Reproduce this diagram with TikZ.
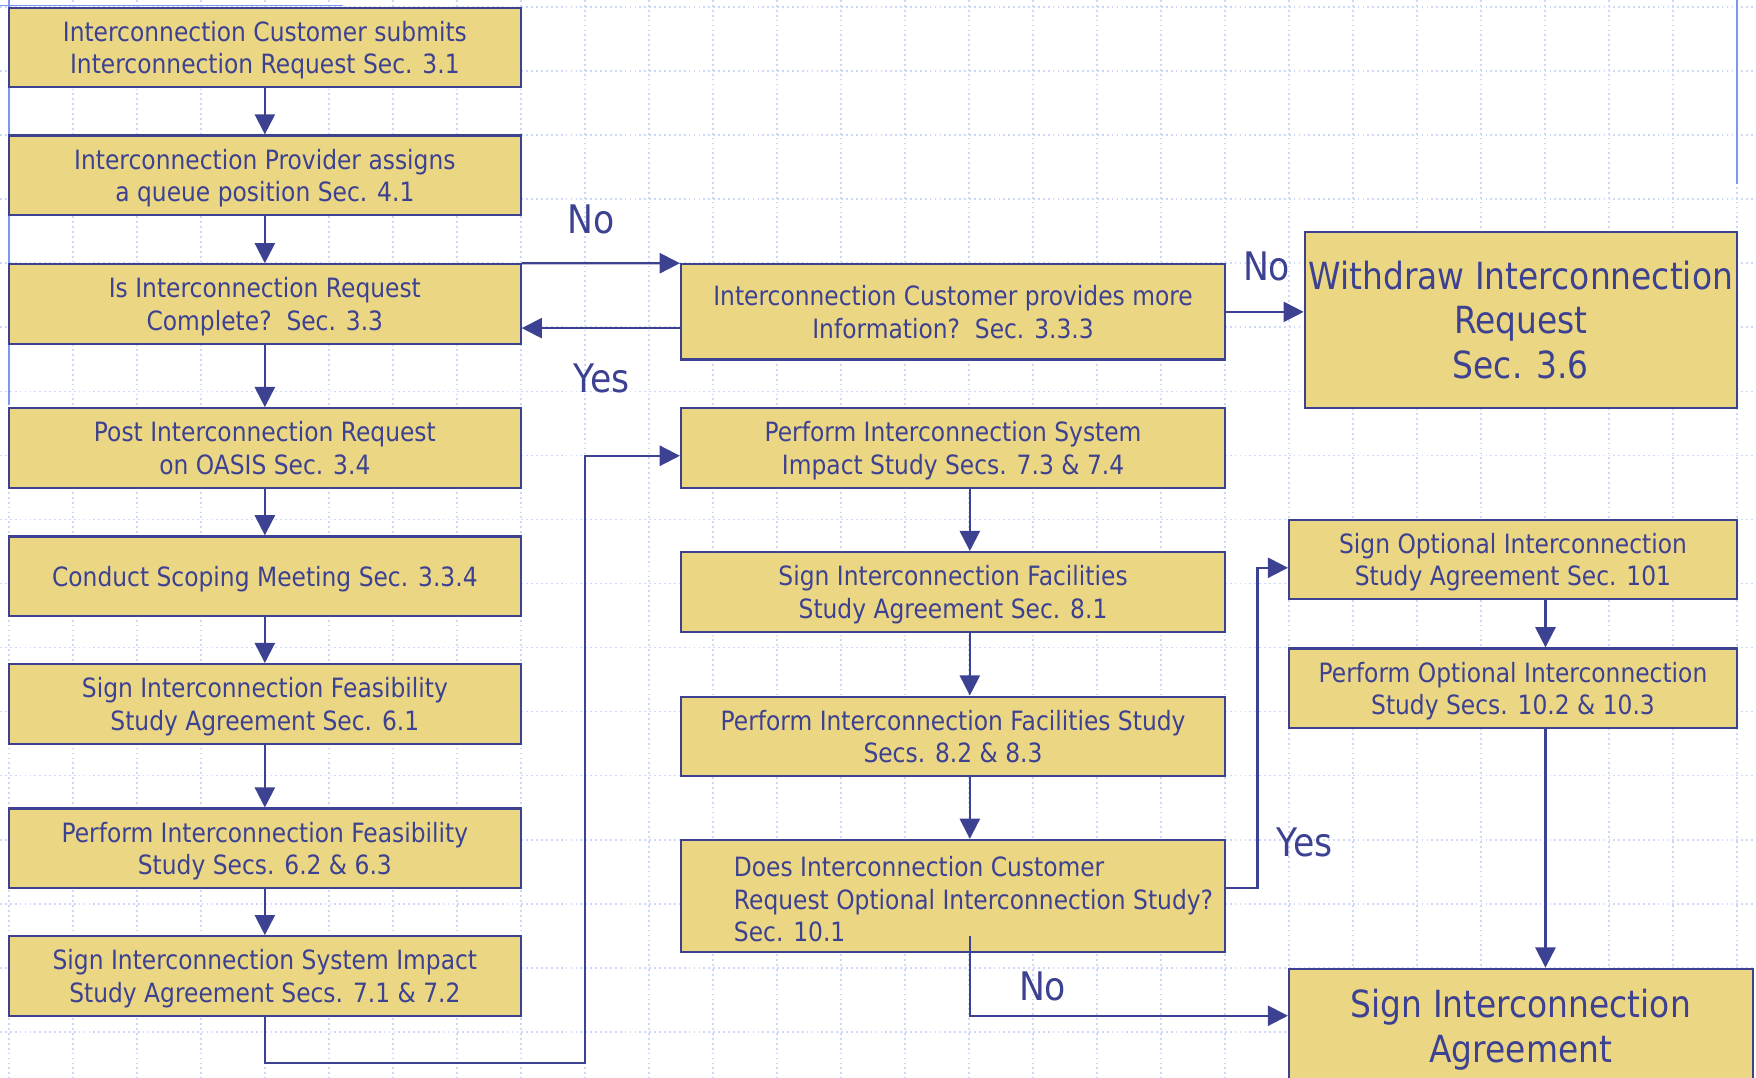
\documentclass[tikz,border=0pt]{standalone}
\usepackage{fontspec}
\setmainfont{DejaVu Sans}[FakeStretch=0.88]
\usetikzlibrary{positioning}
\usetikzlibrary{arrows.meta}
\usepackage{xcolor}
\definecolor{ink}{HTML}{3D4191}
\definecolor{boxfill}{HTML}{EBD783}
\definecolor{gridc}{HTML}{CCD8F7}
\definecolor{edge}{HTML}{7B97F2}

\begin{document}
\begin{tikzpicture}[x=0.02cm,y=-0.02cm,
    f/.style={-{Triangle[length=0.36cm,width=0.36cm]},line width=1.1pt,draw=ink},%
    b/.style={draw=ink,line width=1.1pt,fill=boxfill,text=ink,align=center,inner sep=0pt,
      text depth=0pt,minimum height=1.42cm,font=\fontsize{13.5}{16.5}\selectfont},%
    big/.style={font=\fontsize{19}{22.8}\selectfont},%
    l/.style={text=ink,font=\fontsize{20}{24}\selectfont}]
    \useasboundingbox (0,0) rectangle (1568,962);
    % background grid
    \foreach \i in {0,...,27}
      \draw[gridc,line width=0.8pt,dash pattern=on 0.9pt off 1.6pt] (8+57.14*\i,0) -- (8+57.14*\i,962);
    \foreach \i in {0,...,16}
      \draw[gridc,line width=0.8pt,dash pattern=on 0.9pt off 1.6pt] (0,6.25+57.2*\i) -- (1568,6.25+57.2*\i);
    \draw[edge,line width=0.9pt] (0,5) -- (306,5);
    \draw[edge,line width=0.9pt] (8,0) -- (8,362);
    \draw[edge,line width=0.9pt] (1551,0) -- (1551,164);

    \node[b,minimum width=9.14cm] (b1) at (236.5,42.5) {Interconnection Customer submits\\Interconnection Request Sec. 3.1};
    \node[b,minimum width=9.14cm] (b2) at (236.5,156.5) {Interconnection Provider assigns\\a queue position Sec. 4.1};
    \node[b,minimum width=9.14cm] (b3) at (236.5,271.5) {Is Interconnection Request\\Complete?\ \ Sec. 3.3};
    \node[b,minimum width=9.14cm] (b4) at (236.5,400) {Post Interconnection Request\\on OASIS Sec. 3.4};
    \node[b,minimum width=9.14cm] (b5) at (236.5,514.5) {Conduct Scoping Meeting Sec. 3.3.4};
    \node[b,minimum width=9.14cm] (b6) at (236.5,628.5) {Sign Interconnection Feasibility\\Study Agreement Sec. 6.1};
    \node[b,minimum width=9.14cm] (b7) at (236.5,757.5) {Perform Interconnection Feasibility\\Study Secs. 6.2 \& 6.3};
    \node[b,minimum width=9.14cm] (b8) at (236.5,871.5) {Sign Interconnection System Impact\\Study Agreement Secs. 7.1 \& 7.2};

    \node[b,minimum width=9.72cm,minimum height=1.7cm] (m1) at (851,278.5) {Interconnection Customer provides more\\Information?\ \ Sec. 3.3.3};
    \node[b,minimum width=9.72cm] (m2) at (851,400) {Perform Interconnection System\\Impact Study Secs. 7.3 \& 7.4};
    \node[b,minimum width=9.72cm] (m3) at (851,528.5) {Sign Interconnection Facilities\\Study Agreement Sec. 8.1};
    \node[b,minimum width=9.72cm] (m4) at (851,657.5) {Perform Interconnection Facilities Study\\Secs. 8.2 \& 8.3};
    \node[b,minimum width=9.72cm,minimum height=2cm] (m5) at (851,800) {};
    \node[text=ink,font=\fontsize{13.5}{16.5}\selectfont,align=left,anchor=west,inner sep=0pt] (m5txt) at (655,803)
      {Does Interconnection Customer\\Request Optional Interconnection Study?\\Sec. 10.1};

    \node[b,big,minimum width=7.72cm,minimum height=3.14cm] (r1) at (1358,285.5) {Withdraw Interconnection\\Request\\Sec. 3.6};
    \node[b,minimum width=8cm] (r2) at (1351,499.5) {Sign Optional Interconnection\\Study Agreement Sec. 101};
    \node[b,minimum width=8cm] (r3) at (1351,614.5) {Perform Optional Interconnection\\Study Secs. 10.2 \& 10.3};
    \node[b,big,minimum width=8.28cm,minimum height=2.04cm] (r4) at (1358,916) {Sign Interconnection\\Agreement};

    \foreach \a/\c in {b1/b2,b2/b3,b3/b4,b4/b5,b5/b6,b6/b7,b7/b8}
      \draw[f] (\a.south) -- (\c.north);
    \foreach \a/\c in {m2/m3,m3/m4,m4/m5}
      \draw[f] ([xshift=0.3cm]\a.south) -- ([xshift=0.3cm]\c.north);
    \draw[f] ([xshift=0.58cm]r2.south) -- ([xshift=0.58cm]r3.north);
    \draw[f] ([xshift=0.58cm]r3.south) -- ([xshift=0.58cm]r3.south |- r4.north);

    \draw[f] (b3.north east) -- (m1.north west);
    \coordinate (back) at ([yshift=-0.29cm]m1.west);
    \draw[f] (back) -- (back -| b3.east);
    \draw[f] (m1.east) -- (m1.east -| r1.west);
    \coordinate (turn) at (522,949);
    \draw[f] (b8.south) |- (turn) |- ([yshift=-0.14cm]m2.west);
    \draw[f] ([yshift=0.14cm]m5.east) -- ++(28,0) |- ([yshift=-0.15cm]r2.west);
    \draw[f] ([xshift=0.3cm,yshift=0.3cm]m5.south) |- ([yshift=0.18cm]r4.west);

    \node[l] (no1) at (528,196) {No};
    \node[l] (yes1) at (537,338) {Yes};
    \node[l] (no2) at (1131,238) {No};
    \node[l] (yes2) at (1165,752) {Yes};
    \node[l] (no3) at (931,881) {No};
\end{tikzpicture}
\end{document}
